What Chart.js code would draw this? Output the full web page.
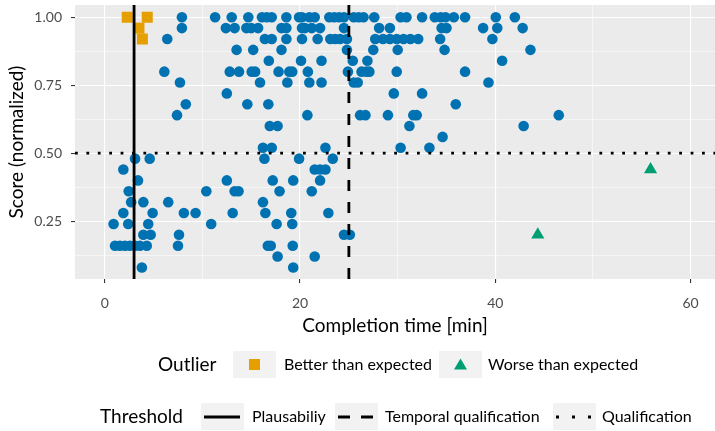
<!DOCTYPE html>
<html>
<head>
<meta charset="utf-8">
<script src="https://cdn.jsdelivr.net/npm/chart.js@4/dist/chart.umd.min.js"></script>
<style>
  html, body { margin: 0; padding: 0; background: #ffffff; }
  canvas { display: block; }
</style>
</head>
<body>
<canvas id="chart" width="715" height="431"></canvas>
<script>
// ---- Data -------------------------------------------------------------
// Regular participants: completion time [min] and normalized score (pairs)
const regularTime = [
  7.9, 11.3, 13.0, 14.7, 16.1, 16.6, 17.1, 18.6, 19.9, 20.2, 20.95, 21.5, 23.0, 23.5, 24.0, 24.5, 25.5, 26.0, 26.5, 27.6, 30.3, 30.9, 32.5, 33.8, 34.4, 34.9, 35.75, 36.9, 40.05, 42.0,
  7.9, 12.4, 13.3, 14.5, 15.0, 15.7, 18.1, 18.6, 20.2, 20.5, 21.2, 22.05, 24.5, 28.1, 29.2, 34.5, 35.0, 38.75, 40.2, 42.8,
  6.4, 16.4, 17.1, 18.6, 20.2, 21.8, 23.1, 23.6, 24.1, 24.8, 27.7, 28.5, 29.2, 29.9, 30.6, 31.3, 32.1, 34.35, 39.7,
  13.5, 15.2, 18.1, 24.8, 27.5, 30.0, 34.8, 43.6,
  16.8, 20.1, 22.2, 25.4, 26.9, 40.7,
  6.1, 12.8, 13.75, 15.05, 15.4, 17.8, 18.9, 19.2, 20.8, 24.9, 26.3, 26.8, 27.1, 29.9, 36.9,
  7.7, 15.9, 18.7, 20.95, 22.2, 25.5, 25.9, 39.3,
  12.5, 29.6, 32.5,
  8.3, 14.6, 16.75, 35.95,
  7.4, 20.75, 26.15, 26.7, 29.0, 31.6, 31.95, 46.5,
  16.9, 17.7, 31.2, 42.9,
  34.6,
  16.2, 17.1, 22.6, 30.3, 33.25,
  3.1, 4.6, 16.35, 19.9, 23.35,
  1.9, 21.5, 22.05, 22.6,
  3.4, 12.5, 17.2, 19.3, 22.05,
  2.45, 10.4, 13.3, 13.7, 17.9, 21.2,
  2.7, 3.95, 6.5, 16.2,
  1.9, 4.9, 8.1, 9.3, 13.1, 16.45, 19.1, 22.9,
  0.9, 2.4, 4.45, 10.9, 17.6, 19.2,
  3.95, 4.7, 7.6, 24.5, 25.1,
  1.05, 1.55, 2.07, 2.58, 3.1, 3.6, 4.3, 7.5, 16.7, 17.0, 19.25,
  17.7, 21.5,
  3.8, 19.3
];
const regularScore = [
  1.00, 1.00, 1.00, 1.00, 1.00, 1.00, 1.00, 1.00, 1.00, 1.00, 1.00, 1.00, 1.00, 1.00, 1.00, 1.00, 1.00, 1.00, 1.00, 1.00, 1.00, 1.00, 1.00, 1.00, 1.00, 1.00, 1.00, 1.00, 1.00, 1.00,
  0.96, 0.96, 0.96, 0.96, 0.96, 0.96, 0.96, 0.96, 0.96, 0.96, 0.96, 0.96, 0.96, 0.96, 0.96, 0.96, 0.96, 0.96, 0.96, 0.96,
  0.92, 0.92, 0.92, 0.92, 0.92, 0.92, 0.92, 0.92, 0.92, 0.92, 0.92, 0.92, 0.92, 0.92, 0.92, 0.92, 0.92, 0.92, 0.92,
  0.88, 0.88, 0.88, 0.88, 0.88, 0.88, 0.88, 0.88,
  0.84, 0.84, 0.84, 0.84, 0.84, 0.84,
  0.80, 0.80, 0.80, 0.80, 0.80, 0.80, 0.80, 0.80, 0.80, 0.80, 0.80, 0.80, 0.80, 0.80, 0.80,
  0.76, 0.76, 0.76, 0.76, 0.76, 0.76, 0.76, 0.76,
  0.72, 0.72, 0.72,
  0.68, 0.68, 0.68, 0.68,
  0.64, 0.64, 0.64, 0.64, 0.64, 0.64, 0.64, 0.64,
  0.60, 0.60, 0.60, 0.60,
  0.56,
  0.52, 0.52, 0.52, 0.52, 0.52,
  0.48, 0.48, 0.48, 0.48, 0.48,
  0.44, 0.44, 0.44, 0.44,
  0.40, 0.40, 0.40, 0.40, 0.40,
  0.36, 0.36, 0.36, 0.36, 0.36, 0.36,
  0.32, 0.32, 0.32, 0.32,
  0.28, 0.28, 0.28, 0.28, 0.28, 0.28, 0.28, 0.28,
  0.24, 0.24, 0.24, 0.24, 0.24, 0.24,
  0.20, 0.20, 0.20, 0.20, 0.20,
  0.16, 0.16, 0.16, 0.16, 0.16, 0.16, 0.16, 0.16, 0.16, 0.16, 0.16,
  0.12, 0.12,
  0.08, 0.08
];

// Outliers
const betterTime = [2.3, 4.35, 3.5, 3.85];
const betterScore = [1.00, 1.00, 0.96, 0.92];
const worseTime = [55.9, 44.35];
const worseScore = [0.44, 0.20];

// Thresholds
const plausibilityTime = 3;      // minutes
const temporalTime = 25;         // minutes
const qualificationScore = 0.5;  // normalized score

// Axes
const xTickValues = [0, 20, 40, 60];
const yTickValues = [0.25, 0.50, 0.75, 1.00];
const xLimits = [-3.05, 62.5];
const yLimits = [0.0375, 1.045];

// ---- Styling ----------------------------------------------------------
const FONT = 'Lato, "Open Sans", sans-serif';
const BLUE = '#0072B2';
const ORANGE = '#E69F00';
const GREEN = '#009E73';
const TEXT_GREY = '#4d4d4d';
const LINE_W = 2.8;

const pairs = (xs, ys) => xs.map((x, i) => ({ x: x, y: ys[i] }));

// major ticks plus the midway minor ticks in between
function withMinor(major) {
  const all = [];
  const step = major[1] - major[0];
  all.push(+(major[0] - step / 2).toFixed(4));
  major.forEach((v, i) => {
    all.push(v);
    if (i < major.length - 1) all.push(+(v + step / 2).toFixed(4));
  });
  return all;
}
const isMajor = (list, v) => list.some(m => Math.abs(m - v) < 1e-6);

const panelBackground = {
  id: 'panelBackground',
  beforeDraw(chart) {
    const { ctx, chartArea: a } = chart;
    ctx.save();
    ctx.fillStyle = '#ebebeb';
    ctx.fillRect(a.left, a.top, a.right - a.left, a.bottom - a.top);
    ctx.restore();
  }
};

// ggplot-style legends underneath the plot
const guideLegends = {
  id: 'guideLegends',
  afterDraw(chart) {
    const ctx = chart.ctx;
    ctx.save();
    ctx.textBaseline = 'middle';
    ctx.textAlign = 'left';
    ctx.fillStyle = '#000';

    const keyBox = (x, y) => {
      ctx.fillStyle = '#f2f2f2';
      ctx.fillRect(x, y, 43, 27);
    };

    // Outlier guide
    const r1 = 351;
    ctx.font = '19px ' + FONT;
    ctx.fillStyle = '#000';
    ctx.fillText('Outlier', 158, r1 + 14);
    keyBox(233, r1);
    ctx.fillStyle = ORANGE;
    ctx.fillRect(249, r1 + 8, 11, 11);
    ctx.font = '16px ' + FONT;
    ctx.fillStyle = '#000';
    ctx.fillText('Better than expected', 284, r1 + 14);
    keyBox(439, r1);
    ctx.fillStyle = GREEN;
    ctx.beginPath();
    ctx.moveTo(460.5, r1 + 7.5);
    ctx.lineTo(467, r1 + 18.5);
    ctx.lineTo(454, r1 + 18.5);
    ctx.closePath();
    ctx.fill();
    ctx.fillStyle = '#000';
    ctx.fillText('Worse than expected', 488, r1 + 14);

    // Threshold guide
    const r2 = 403;
    const ly = r2 + 14;
    ctx.font = '19px ' + FONT;
    ctx.fillText('Threshold', 100, ly);
    ctx.strokeStyle = '#000';
    ctx.lineWidth = LINE_W;
    ctx.lineCap = 'butt';

    keyBox(201, r2);
    ctx.strokeStyle = '#000';
    ctx.setLineDash([]);
    ctx.beginPath(); ctx.moveTo(204, ly); ctx.lineTo(240, ly); ctx.stroke();
    ctx.fillStyle = '#000';
    ctx.font = '16px ' + FONT;
    ctx.fillText('Plausabiliy', 252, ly);

    keyBox(335, r2);
    ctx.setLineDash([12, 11]);
    ctx.beginPath(); ctx.moveTo(338, ly); ctx.lineTo(375, ly); ctx.stroke();
    ctx.fillStyle = '#000';
    ctx.fillText('Temporal qualification', 385, ly);

    keyBox(553, r2);
    ctx.setLineDash([3, 13]);
    ctx.beginPath(); ctx.moveTo(556, ly); ctx.lineTo(593, ly); ctx.stroke();
    ctx.setLineDash([]);
    ctx.fillStyle = '#000';
    ctx.fillText('Qualification', 602, ly);

    ctx.restore();
  }
};

const gridFor = (major) => ({
  color: '#ffffff',
  lineWidth: c => isMajor(major, c.tick.value) ? 1.1 : 0.55,
  drawTicks: true,
  tickLength: 4,
  tickWidth: 1.1,
  tickColor: c => isMajor(major, c.tick.value) ? '#333333' : 'rgba(0,0,0,0)'
});

new Chart(document.getElementById('chart'), {
  type: 'scatter',
  data: {
    datasets: [
      {
        type: 'line',
        label: 'Plausabiliy',
        data: [{ x: plausibilityTime, y: yLimits[0] }, { x: plausibilityTime, y: yLimits[1] }],
        borderColor: '#000',
        borderWidth: LINE_W,
        pointRadius: 0,
        order: 0
      },
      {
        type: 'line',
        label: 'Temporal qualification',
        data: [{ x: temporalTime, y: yLimits[0] }, { x: temporalTime, y: yLimits[1] }],
        borderColor: '#000',
        borderWidth: LINE_W,
        borderDash: [11, 11],
        pointRadius: 0,
        order: 0
      },
      {
        type: 'line',
        label: 'Qualification',
        data: [{ x: xLimits[0], y: qualificationScore }, { x: xLimits[1], y: qualificationScore }],
        borderColor: '#000',
        borderWidth: LINE_W,
        borderDash: [2.8, 8.6],
        pointRadius: 0,
        order: 0
      },
      {
        label: 'Regular',
        data: pairs(regularTime, regularScore),
        backgroundColor: BLUE,
        borderWidth: 0,
        pointRadius: 5.3,
        pointStyle: 'circle',
        order: 2
      },
      {
        label: 'Better than expected',
        data: pairs(betterTime, betterScore),
        backgroundColor: ORANGE,
        borderWidth: 0,
        pointRadius: 7.8,
        pointStyle: 'rect',
        order: 1
      },
      {
        label: 'Worse than expected',
        data: pairs(worseTime, worseScore),
        backgroundColor: GREEN,
        borderWidth: 0,
        pointRadius: 7.6,
        pointStyle: 'triangle',
        order: 1
      }
    ]
  },
  options: {
    responsive: false,
    animation: false,
    devicePixelRatio: 1,
    layout: { autoPadding: false, padding: { top: 5, right: 0, bottom: 94, left: 0 } },
    plugins: {
      legend: { display: false },
      tooltip: { enabled: false }
    },
    scales: {
      x: {
        type: 'linear',
        min: xLimits[0],
        max: xLimits[1],
        afterBuildTicks: s => { s.ticks = withMinor(xTickValues).filter(v => v >= xLimits[0] && v <= xLimits[1]).map(v => ({ value: v })); },
        afterFit: s => { s.height = 58; s.paddingLeft = 0; s.paddingRight = 0; },
        grid: gridFor(xTickValues),
        border: { display: false },
        ticks: {
          autoSkip: false,
          maxRotation: 0,
          padding: 12,
          color: TEXT_GREY,
          font: { family: FONT, size: 14 },
          callback: v => isMajor(xTickValues, v) ? String(v) : ''
        },
        title: {
          display: true,
          text: 'Completion time [min]',
          color: '#000',
          font: { family: FONT, size: 19 },
          padding: { top: 0, bottom: 0 }
        }
      },
      y: {
        type: 'linear',
        min: yLimits[0],
        max: yLimits[1],
        afterBuildTicks: s => { s.ticks = withMinor(yTickValues).filter(v => v >= yLimits[0] && v <= yLimits[1]).map(v => ({ value: v })); },
        afterFit: s => { s.width = 75; s.paddingTop = 0; s.paddingBottom = 0; },
        grid: gridFor(yTickValues),
        border: { display: false },
        ticks: {
          autoSkip: false,
          padding: 9,
          color: TEXT_GREY,
          font: { family: FONT, size: 14 },
          callback: v => isMajor(yTickValues, v) ? v.toFixed(2) : ''
        },
        title: {
          display: true,
          text: 'Score (normalized)',
          color: '#000',
          font: { family: FONT, size: 19 },
          padding: { top: 5, bottom: 0 }
        }
      }
    }
  },
  plugins: [panelBackground, guideLegends]
});
</script>
</body>
</html>
